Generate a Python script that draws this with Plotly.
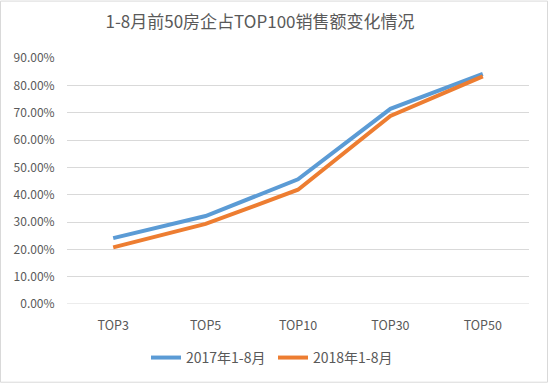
import plotly.graph_objects as go

categories = ["TOP3", "TOP5", "TOP10", "TOP30", "TOP50"]
series_2017 = [0.241, 0.322, 0.456, 0.714, 0.842]
series_2018 = [0.207, 0.293, 0.418, 0.688, 0.833]
name_2017 = "2017年1-8月"
name_2018 = "2018年1-8月"
title_text = "1-8月前50房企占TOP100销售额变化情况"

W, H = 548, 386
ML, MR, MT, MB = 67, 19, 58, 79.5
pw, ph = W - ML - MR, H - MT - MB

font_family = "Noto Sans CJK SC, Noto Sans, sans-serif"

fig = go.Figure()
fig.add_trace(go.Scatter(x=categories, y=series_2017, mode="lines", name=name_2017,
                         line=dict(color="#5B9BD5", width=4)))
fig.add_trace(go.Scatter(x=categories, y=series_2018, mode="lines", name=name_2018,
                         line=dict(color="#ED7D31", width=4)))

fig.update_layout(
    width=W, height=H,
    margin=dict(l=ML, r=MR, t=MT, b=MB, pad=0),
    paper_bgcolor="white", plot_bgcolor="white",
    font=dict(family=font_family, color="#595959", size=12),
    title=dict(text=title_text, x=260 / W, xanchor="center", y=1 - 22 / H, yanchor="middle",
               font=dict(size=17, color="#595959", family=font_family)),
    showlegend=True,
    legend=dict(orientation="h", x=(273 - ML) / pw, xanchor="center", y=(306.5 - 361) / ph,
                yanchor="middle", font=dict(size=14, color="#595959"),
                entrywidth=82, entrywidthmode="pixels"),
    xaxis=dict(type="category", range=[-0.5, 4.5], showgrid=False, zeroline=False,
               showline=False, ticks="outside", ticklen=10, tickcolor="rgba(0,0,0,0)",
               tickfont=dict(size=12.5, color="#595959")),
    yaxis=dict(range=[0, 0.9], dtick=0.1, tickformat=".2%", showgrid=True,
               gridcolor="#D9D9D9", gridwidth=1, zeroline=False, showline=False,
               ticks="outside", ticklen=9, tickcolor="rgba(0,0,0,0)",
               tickfont=dict(size=12, color="#595959")),
    shapes=[dict(type="line", xref="paper", yref="y", x0=0, x1=1, y0=0, y1=0,
                 line=dict(color="#D9D9D9", width=1), layer="below"),
            dict(type="rect", xref="paper", yref="paper",
                 x0=(0.5 - ML) / pw, x1=(W - 0.5 - ML) / pw,
                 y0=-(MB - 0.5) / ph,
                 y1=(ph + MT - 0.5) / ph,
                 line=dict(color="#D9D9D9", width=1), fillcolor="rgba(0,0,0,0)")],
)

fig.write_html("out.html", config={"displayModeBar": False},
               post_script="document.body.style.margin='0';")
